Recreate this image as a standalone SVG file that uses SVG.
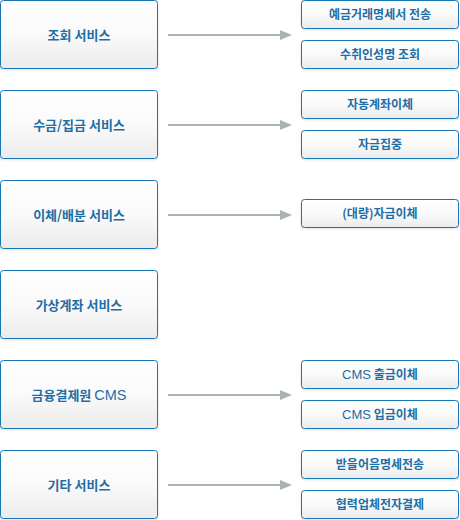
<svg xmlns="http://www.w3.org/2000/svg" width="460" height="520" viewBox="0 0 460 520">
<defs>
<linearGradient id="g" x1="0" y1="0" x2="0" y2="1">
<stop offset="0" stop-color="#ffffff"/>
<stop offset="0.5" stop-color="#fafafa"/>
<stop offset="1" stop-color="#ebebeb"/>
</linearGradient>
<filter id="sh" x="-10%" y="-10%" width="120%" height="130%">
<feDropShadow dx="0" dy="1" stdDeviation="1" flood-color="#000" flood-opacity="0.12"/>
</filter>
<marker id="arr" markerWidth="12" markerHeight="10" refX="0" refY="5" orient="auto" markerUnits="userSpaceOnUse">
<path d="M0,0 L12,5 L0,10 Z" fill="#aab2b6"/>
</marker>
</defs>
<style>
.box{fill:url(#g);stroke:#1474b4;stroke-width:1;filter:url(#sh)}
.t1{font-family:"Noto Sans CJK KR","Noto Sans",sans-serif;font-size:13px;font-weight:bold;fill:#1d6ea6;text-anchor:middle}
.t2{font-family:"Noto Sans CJK KR","Noto Sans",sans-serif;font-size:12px;font-weight:bold;fill:#1d6ea6;text-anchor:middle}
.lat{font-family:"Liberation Sans",Arial,sans-serif;font-weight:normal}
.t1 .lat{font-size:14.5px}
.t2 .lat{font-size:13px}
.c{stroke:#aab2b6;stroke-width:2;fill:none}
</style>
<rect width="460" height="520" fill="#ffffff"/>
<g id="connectors">
<line class="c" x1="168" y1="35" x2="280" y2="35" marker-end="url(#arr)"/>
<line class="c" x1="168" y1="125" x2="280" y2="125" marker-end="url(#arr)"/>
<line class="c" x1="168" y1="215" x2="280" y2="215" marker-end="url(#arr)"/>
<line class="c" x1="168" y1="395" x2="280" y2="395" marker-end="url(#arr)"/>
<line class="c" x1="168" y1="485" x2="280" y2="485" marker-end="url(#arr)"/>
</g>
<g id="n1"><rect class="box" x="0.5" y="0.5" width="157" height="68" rx="3"/><text class="t1" x="79" y="39.5">조회 서비스</text></g>
<g id="n2"><rect class="box" x="0.5" y="90.5" width="157" height="68" rx="3"/><text class="t1" x="79" y="129.5">수금/집금 서비스</text></g>
<g id="n3"><rect class="box" x="0.5" y="180.5" width="157" height="68" rx="3"/><text class="t1" x="79" y="219.5">이체/배분 서비스</text></g>
<g id="n4"><rect class="box" x="0.5" y="270.5" width="157" height="68" rx="3"/><text class="t1" x="79" y="309.5">가상계좌 서비스</text></g>
<g id="n5"><rect class="box" x="0.5" y="360.5" width="157" height="68" rx="3"/><text class="t1" x="79" y="399.5">금융결제원 <tspan class="lat">CMS</tspan></text></g>
<g id="n6"><rect class="box" x="0.5" y="450.5" width="157" height="68" rx="3"/><text class="t1" x="79" y="489.5">기타 서비스</text></g>
<g id="r1"><rect class="box" x="301.5" y="0.5" width="157" height="28" rx="3"/><text class="t2" x="380" y="19">예금거래명세서 전송</text></g>
<g id="r2"><rect class="box" x="301.5" y="40.5" width="157" height="28" rx="3"/><text class="t2" x="380" y="59">수취인성명 조회</text></g>
<g id="r3"><rect class="box" x="301.5" y="90.5" width="157" height="28" rx="3"/><text class="t2" x="380" y="109">자동계좌이체</text></g>
<g id="r4"><rect class="box" x="301.5" y="130.5" width="157" height="28" rx="3"/><text class="t2" x="380" y="149">자금집중</text></g>
<g id="r5"><rect class="box" x="301.5" y="199.5" width="157" height="28" rx="3"/><text class="t2" x="380" y="218">(대량)자금이체</text></g>
<g id="r6"><rect class="box" x="301.5" y="360.5" width="157" height="28" rx="3"/><text class="t2" x="380" y="379"><tspan class="lat">CMS</tspan> 출금이체</text></g>
<g id="r7"><rect class="box" x="301.5" y="400.5" width="157" height="28" rx="3"/><text class="t2" x="380" y="419"><tspan class="lat">CMS</tspan> 입금이체</text></g>
<g id="r8"><rect class="box" x="301.5" y="450.5" width="157" height="28" rx="3"/><text class="t2" x="380" y="469">받을어음명세전송</text></g>
<g id="r9"><rect class="box" x="301.5" y="490.5" width="157" height="28" rx="3"/><text class="t2" x="380" y="509">협력업체전자결제</text></g>
</svg>
